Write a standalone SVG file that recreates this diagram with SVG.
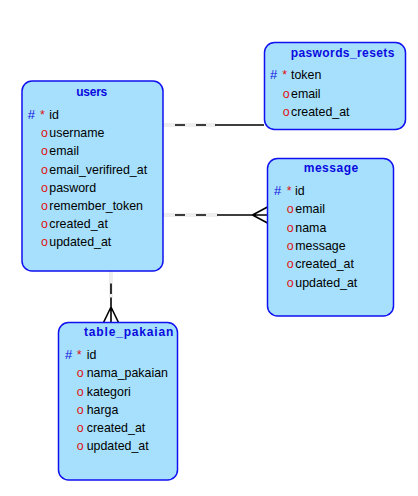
<svg xmlns="http://www.w3.org/2000/svg" width="418" height="496" viewBox="0 0 418 496">
<style>
.box{fill:#a6e0fc;stroke:#1010f0;stroke-width:1.5}
.title{font-family:"Liberation Sans",Arial,sans-serif;font-weight:bold;font-size:12px;fill:#0a0ae0}
.t{font-family:"Liberation Sans",Arial,sans-serif;font-size:12.4px;fill:#000}
.h{font-family:"Liberation Sans",Arial,sans-serif;font-size:13px;fill:#1010e0}
.s{font-family:"Liberation Sans",Arial,sans-serif;font-size:12.4px;fill:#e01010}
.g1{stroke:#dedede;stroke-width:3;fill:none}
.g2{stroke:#ffffff;stroke-width:1;fill:none}
.k{stroke:#000;stroke-width:1.6;fill:none}
</style>
<rect width="418" height="496" fill="#fff"/>
<g id="connectors">
  <path class="g1" d="M163,125H216M163,215H218M111,271V298"/>
  <path class="g2" d="M163,125H216M163,215H218M111,271V298"/>
  <path class="k" d="M175,125H185M196,125H206M215,125H264"/>
  <path class="k" d="M175,215H185M196,215H206M217,215H267.5M252.5,215L267.5,207M252.5,215L267.5,223"/>
  <path class="k" d="M111,283.5V294M111,297.5V322.5M111,307L103.5,322.5M111,307L118.5,322.5"/>
</g>
<g id="users">
  <rect class="box" x="22" y="81" width="141" height="190" rx="10"/>
  <text class="title" x="76.3" y="96" textLength="31" lengthAdjust="spacing">users</text>
  <text class="h" x="27.7" y="118.7">#</text><text class="s" x="40" y="118.7">*</text><text class="t" x="49.3" y="118.7">id</text>
  <text class="s" x="41" y="137">o</text><text class="t" x="49.3" y="137">username</text>
  <text class="s" x="41" y="155.3">o</text><text class="t" x="49.3" y="155.3">email</text>
  <text class="s" x="41" y="173.7">o</text><text class="t" x="49.3" y="173.7">email_verifired_at</text>
  <text class="s" x="41" y="191.7">o</text><text class="t" x="49.3" y="191.7">pasword</text>
  <text class="s" x="41" y="209.7">o</text><text class="t" x="49.3" y="209.7">remember_token</text>
  <text class="s" x="41" y="227.7">o</text><text class="t" x="49.3" y="227.7">created_at</text>
  <text class="s" x="41" y="245.7">o</text><text class="t" x="49.3" y="245.7">updated_at</text>
</g>
<g id="paswords_resets">
  <rect class="box" x="264.5" y="42.5" width="141" height="87" rx="10"/>
  <text class="title" x="290.7" y="56.7" textLength="103.7" lengthAdjust="spacing">paswords_resets</text>
  <text class="h" x="270" y="79.3">#</text><text class="s" x="282.3" y="79.3">*</text><text class="t" x="291" y="79.3">token</text>
  <text class="s" x="282.7" y="97.7">o</text><text class="t" x="291" y="97.7">email</text>
  <text class="s" x="282.7" y="115.7">o</text><text class="t" x="291" y="115.7">created_at</text>
</g>
<g id="message">
  <rect class="box" x="267.5" y="158.5" width="126" height="157.5" rx="10"/>
  <text class="title" x="303.7" y="171.7" textLength="54.6" lengthAdjust="spacing">message</text>
  <text class="h" x="274" y="195">#</text><text class="s" x="286.7" y="195">*</text><text class="t" x="295" y="195">id</text>
  <text class="s" x="286.7" y="213.3">o</text><text class="t" x="295.3" y="213.3">email</text>
  <text class="s" x="286.7" y="231.7">o</text><text class="t" x="295.3" y="231.7">nama</text>
  <text class="s" x="286.7" y="250">o</text><text class="t" x="295.3" y="250">message</text>
  <text class="s" x="286.7" y="268.3">o</text><text class="t" x="295.3" y="268.3">created_at</text>
  <text class="s" x="286.7" y="286.7">o</text><text class="t" x="295.3" y="286.7">updated_at</text>
</g>
<g id="table_pakaian">
  <rect class="box" x="58.5" y="322.5" width="119" height="157.5" rx="10"/>
  <text class="title" x="84" y="335.5" textLength="89.3" lengthAdjust="spacing">table_pakaian</text>
  <text class="h" x="65" y="359.3">#</text><text class="s" x="76.7" y="359.3">*</text><text class="t" x="86.7" y="359.3">id</text>
  <text class="s" x="76.7" y="377.3">o</text><text class="t" x="86.7" y="377.3">nama_pakaian</text>
  <text class="s" x="76.7" y="395.7">o</text><text class="t" x="86.7" y="395.7">kategori</text>
  <text class="s" x="76.7" y="414">o</text><text class="t" x="86.7" y="414">harga</text>
  <text class="s" x="76.7" y="431.7">o</text><text class="t" x="86.7" y="431.7">created_at</text>
  <text class="s" x="76.7" y="450">o</text><text class="t" x="86.7" y="450">updated_at</text>
</g>
</svg>
